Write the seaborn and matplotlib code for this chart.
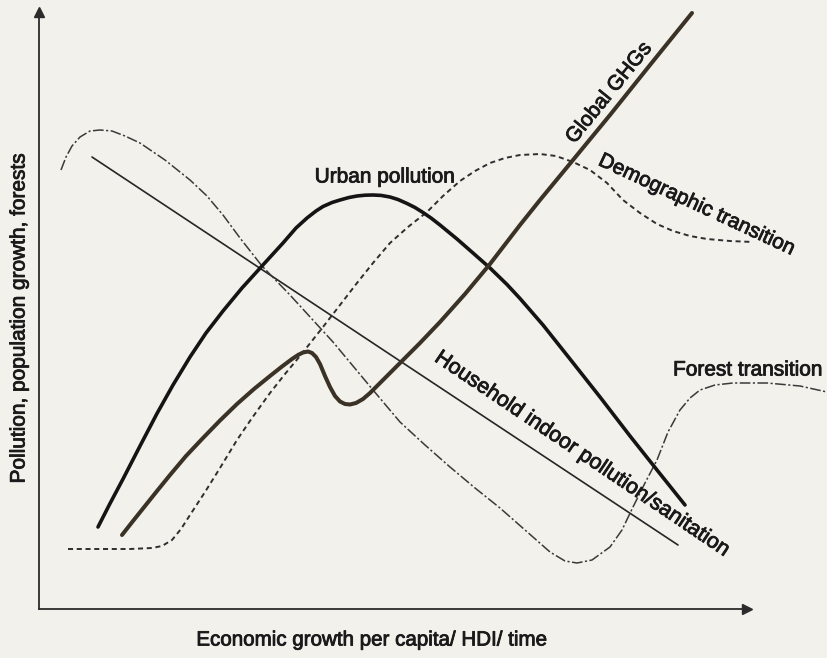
import numpy as np
import pandas as pd
import matplotlib
matplotlib.use("Agg")
import matplotlib.pyplot as plt
import matplotlib.patheffects as pe
import seaborn as sns

# ---- data (schematic curves, origin at axes corner) ----
urban_x = [59, 71, 84, 101, 118, 134, 151, 167, 184, 203, 223, 244, 257, 268, 277, 284, 293,
           301, 310, 318, 326, 334, 342, 351, 359, 368, 376, 384, 392, 401, 418, 434, 451,
           468, 481, 504, 531, 561, 591, 618, 646]
urban_y = [82, 105.5, 130, 163, 195.5, 224, 252, 276, 298, 321, 343, 366, 381, 391, 398, 402.5,
           406.5, 409, 411.5, 413, 413.8, 414, 413.6, 412, 409.5, 405.5, 401.5, 396.5, 391,
           384, 370, 356, 341, 324.5, 310.5, 284, 250, 212, 173, 139, 104]

ghg_x = [83, 94, 106, 118, 131, 147, 164, 181, 198, 215, 231, 243, 253, 259, 264, 269, 273,
         277, 281, 286, 291, 296, 301, 306, 311, 317, 324, 331, 346, 361, 381, 401, 426,
         451, 481, 501, 534, 571, 611, 653]
ghg_y = [74, 88, 103, 118, 134, 153, 171, 188.5, 205, 220, 233, 242.5, 250, 254, 256.5, 257.5,
         256, 252, 245, 233, 222, 213, 207.5, 205, 204.5, 206, 210, 216, 231, 246, 266, 287,
         315, 345, 384, 409, 449, 494, 544, 596]

household_x = [53, 364, 639]
household_y = [452, 246, 64]

forest_x = [22, 27, 33, 41, 51, 61, 73, 86, 101, 126, 151, 168, 184, 201, 223, 251, 294, 334,
            361, 386, 411, 436, 461, 486, 511, 526, 538, 553, 571, 583, 594, 606, 618, 629,
            641, 651, 661, 676, 694, 728, 761, 788]
forest_y = [439, 452, 463, 472, 478, 479, 478, 473, 466, 449, 429, 413, 394, 371, 343, 314, 267,
            219, 187, 164, 142, 121, 101, 79, 57, 48, 46, 49, 62, 79, 102, 126, 149, 177,
            199, 211, 219, 224, 226, 226, 223, 217]

demo_x = [29, 61, 91, 113, 123, 133, 142, 151, 166, 181, 198, 213, 231, 246, 261, 284, 301,
          318, 334, 351, 369, 388, 404, 421, 436, 451, 466, 481, 501, 517, 534, 551, 568,
          584, 601, 618, 634, 651, 668, 691, 714]
demo_y = [60, 60, 60, 61, 63, 69, 80, 94, 117, 141, 169, 191, 216, 235, 253, 282, 304,
          326, 346, 366, 382, 397, 413, 428, 438, 446, 451, 454, 455, 453, 447, 439, 426,
          409, 396, 385, 378, 373, 370, 368, 367]

labels = {
    "urban": "Urban pollution",
    "ghg": "Global GHGs",
    "demo": "Demographic transition",
    "household": "Household indoor pollution/sanitation",
    "forest": "Forest transition",
}
x_label = "Economic growth per capita/ HDI/ time"
y_label = "Pollution, population growth, forests"

# ---- style ----
sns.set_theme(style="white")
plt.rcParams["font.family"] = ["Liberation Sans", "DejaVu Sans"]
paper = "#f3f1ec"

W, H = 827, 658
fig = plt.figure(figsize=(W / 100, H / 100), dpi=100, facecolor=paper)
ax = fig.add_axes([39 / W, (H - 609) / H, 708 / W, 597 / H])
ax.set_facecolor(paper)
ax.set_xlim(0, 708)
ax.set_ylim(0, 597)

def draw(xs, ys, **kw):
    df = pd.DataFrame({"x": xs, "y": ys})
    sns.lineplot(data=df, x="x", y="y", sort=False, estimator=None, ax=ax,
                 clip_on=False, **kw)

draw(household_x, household_y, color="#262626", linewidth=1.2, solid_capstyle="round")
draw(forest_x, forest_y, color="#3a3a3a", linewidth=1.1,
     linestyle=(0, (7, 1.6, 1.4, 1.6)))
draw(demo_x, demo_y, color="#2e2e2e", linewidth=1.4, linestyle=(0, (2.6, 1.9)))
draw(urban_x, urban_y, color="#141414", linewidth=2.6, solid_capstyle="round",
     solid_joinstyle="round")
draw(ghg_x, ghg_y, color="#3a3226", linewidth=2.9, solid_capstyle="round",
     solid_joinstyle="round")

# ---- axes as arrows ----
for s in ["top", "right"]:
    ax.spines[s].set_visible(False)
for s in ["left", "bottom"]:
    ax.spines[s].set_color("#2b2b2b")
    ax.spines[s].set_linewidth(1.3)
ax.set_xticks([])
ax.set_yticks([])
ax.set_xlabel("")
ax.set_ylabel("")
ax.plot(1, 0, marker=">", markersize=7, color="#2b2b2b", transform=ax.transAxes,
        clip_on=False)
ax.plot(0, 1, marker="^", markersize=7, color="#2b2b2b", transform=ax.transAxes,
        clip_on=False)

# ---- annotations ----
fs = 15
tc = "#1a1a1a"
bold = [pe.withStroke(linewidth=0.6, foreground=tc)]
ax.text(346, 432, labels["urban"], fontsize=fs, color=tc, ha="center", va="center",
        path_effects=bold)
ax.text(570, 516, labels["ghg"], fontsize=fs, color=tc, ha="center", va="center",
        rotation=51, rotation_mode="anchor", path_effects=bold)
ax.text(658, 404, labels["demo"], fontsize=fs, color=tc, ha="center", va="center",
        rotation=-25, rotation_mode="anchor", path_effects=bold)
ax.text(543, 155, labels["household"], fontsize=15.4, color=tc, ha="center", va="center",
        rotation=-34, rotation_mode="anchor", path_effects=bold)
ax.text(709, 239, labels["forest"], fontsize=fs, color=tc, ha="center", va="center",
        path_effects=bold)

fig.text(371 / W, 1 - 640 / H, x_label, fontsize=14.8, color=tc, ha="center", va="center",
         path_effects=bold)
fig.text(19 / W, 1 - 318 / H, y_label, fontsize=fs, color=tc, ha="center", va="center",
         rotation=90, path_effects=bold)

fig.savefig("out.png", dpi=100, facecolor=paper)
